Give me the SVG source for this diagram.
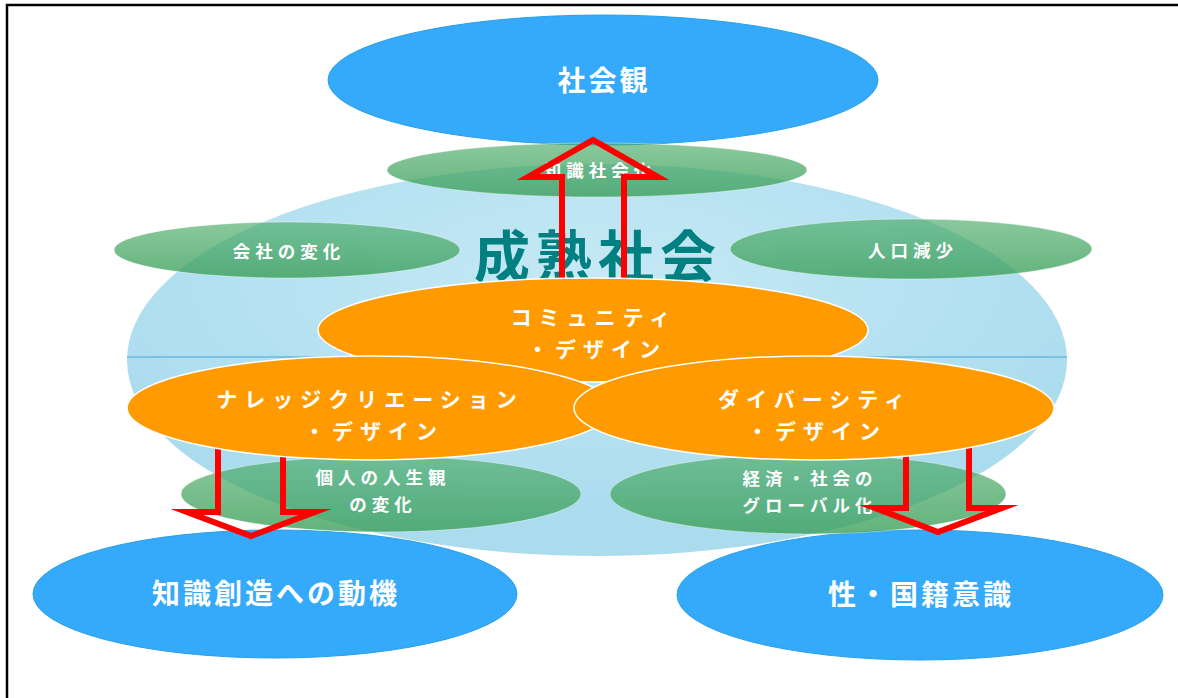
<svg xmlns="http://www.w3.org/2000/svg" width="1178" height="698" viewBox="0 0 1178 698">
<defs>
<radialGradient id="bigGrad" cx="0.5" cy="0.3" r="0.6">
<stop offset="0" stop-color="#c6e9f5"/>
<stop offset="1" stop-color="#aadcee"/>
</radialGradient>
<linearGradient id="greenGrad" x1="0" y1="0" x2="0" y2="1">
<stop offset="0" stop-color="#4cab68" stop-opacity="0.65"/>
<stop offset="1" stop-color="#3b9f5a" stop-opacity="0.8"/>
</linearGradient>
<style>
.blue{fill:#35aafa;stroke:#2a9fe8;stroke-width:1}
.green{fill:url(#greenGrad);stroke:#ffffff;stroke-opacity:0.4;stroke-width:1}
.orange{fill:#ff9a00;stroke:#ffffff;stroke-width:1.5}
.t{font-family:"Noto Sans CJK JP","Noto Sans",sans-serif;font-weight:bold;fill:#ffffff;text-anchor:middle}
.big{font-size:28px;letter-spacing:3px}
.mid{font-size:21px;letter-spacing:7px}
.sm{font-size:17.5px;letter-spacing:5px}
.arrow{fill:none;stroke:#ff0000;stroke-width:6;stroke-miterlimit:10}
</style>
</defs>
<rect width="1178" height="698" fill="#ffffff"/>
<path d="M7 698 V5 H1178" fill="none" stroke="#000000" stroke-width="2.5"/>

<g id="seijuku">
<ellipse cx="597" cy="360" rx="470" ry="196" fill="url(#bigGrad)"/>
<line x1="127" y1="357" x2="1067" y2="357" stroke="#7cc3e0" stroke-width="2"/>
<text x="598" y="277" style="font-family:'Noto Sans CJK JP','Noto Sans',sans-serif;font-weight:bold;font-size:56px;letter-spacing:6px;fill:#008080;text-anchor:middle">成熟社会</text>
</g>

<g id="shakaikan">
<ellipse class="blue" cx="603" cy="80" rx="275" ry="65"/>
<text class="t big" x="604" y="91">社会観</text>
</g>
<g id="chishiki-souzou">
<ellipse class="blue" cx="275" cy="594" rx="242" ry="64"/>
<text class="t big" x="276" y="604">知識創造への動機</text>
</g>
<g id="sei-kokuseki">
<ellipse class="blue" cx="920" cy="595" rx="243" ry="65"/>
<text class="t big" x="921" y="605">性・国籍意識</text>
</g>

<g id="chishiki-shakaika">
<ellipse class="green" cx="597" cy="170" rx="210" ry="27"/>
<text class="t sm" x="600" y="177">知識社会化</text>
</g>
<g id="kaisha">
<ellipse class="green" cx="287" cy="250" rx="173" ry="28"/>
<text class="t sm" x="289" y="258">会社の変化</text>
</g>
<g id="jinkou">
<ellipse class="green" cx="911" cy="249" rx="181" ry="30"/>
<text class="t sm" x="913" y="257">人口減少</text>
</g>
<g id="kojin">
<ellipse class="green" cx="381" cy="494" rx="200" ry="38"/>
<text class="t sm" x="383" y="484">個人の人生観</text>
<text class="t sm" x="383" y="511">の変化</text>
</g>
<g id="keizai">
<ellipse class="green" cx="808" cy="494" rx="198" ry="40"/>
<text class="t sm" x="810" y="485">経済・社会の</text>
<text class="t sm" x="810" y="512">グローバル化</text>
</g>

<g id="connectors">
<path class="arrow" d="M562 300 V177 H528 L593 140 L658 177 H624 V300"/>
<path class="arrow" d="M218 440 V512 H187 L251 536 L315 512 H283 V440"/>
<path class="arrow" d="M906 440 V508 H875 L938 532 L1002 508 H969 V440"/>
</g>

<g id="community">
<ellipse class="orange" cx="593" cy="330" rx="275" ry="52"/>
<text class="t mid" x="594" y="325">コミュニティ</text>
<text class="t mid" x="597" y="357">・デザイン</text>
</g>
<g id="knowledge">
<ellipse class="orange" cx="370" cy="408" rx="243" ry="52"/>
<text class="t mid" x="370" y="407">ナレッジクリエーション</text>
<text class="t mid" x="374" y="439">・デザイン</text>
</g>
<g id="diversity">
<ellipse class="orange" cx="814" cy="408" rx="240" ry="52"/>
<text class="t mid" x="815" y="407">ダイバーシティ</text>
<text class="t mid" x="817" y="439">・デザイン</text>
</g>
</svg>
